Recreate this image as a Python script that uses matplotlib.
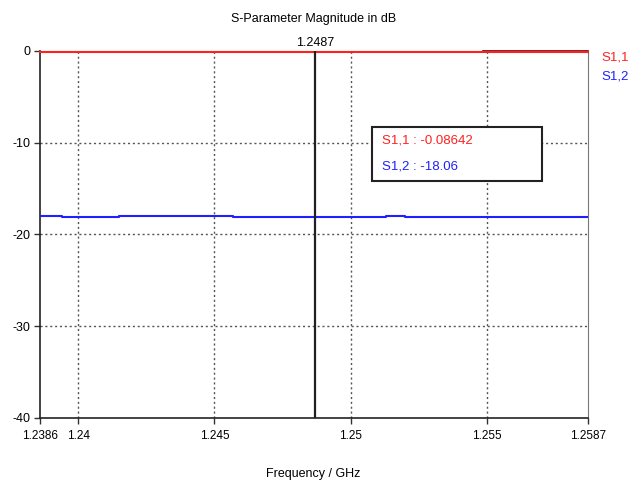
import matplotlib.pyplot as plt

# S-parameter traces (step data, GHz / dB)
freq = [1.2386, 1.23941, 1.24150, 1.24568, 1.25129, 1.25199, 1.2587]
s11 = [-0.086, -0.086, -0.086, -0.086, -0.086, -0.086, -0.086]
s12 = [-17.95, -18.06, -17.98, -18.06, -17.98, -18.06, -18.06]

marker_f = 1.2487
marker_s11 = -0.08642
marker_s12 = -18.06

xticks = [1.2386, 1.24, 1.245, 1.25, 1.255, 1.2587]
xticklabels = ['1.2386', '1.24', '1.245', '1.25', '1.255', '1.2587']
yticks = [0, -10, -20, -30, -40]

plt.rcParams['font.family'] = ['Liberation Sans', 'DejaVu Sans']
plt.rcParams['font.size'] = 8.5

fig = plt.figure(figsize=(6.36, 4.8), dpi=100)
ax = fig.add_axes([0.0629, 0.1292, 0.8616, 0.7646])

ax.plot(freq, s11, color='#ff2020', lw=1.5, drawstyle='steps-post', zorder=4, clip_on=False)
ax.plot(freq, s12, color='#2020ff', lw=1.5, drawstyle='steps-post', zorder=4)
# darker segment of the top trace near the end of the band
ax.plot([1.25485, 1.2587], [0.0, 0.0], color='#600000', lw=1.2, zorder=3, clip_on=False)

ax.axvline(marker_f, color='#202020', lw=1.6, zorder=5)
ax.text(marker_f, 0.25, '1.2487', ha='center', va='bottom', fontsize=9)

ax.set_xlim(1.2386, 1.2587)
ax.set_ylim(-40, 0)
ax.set_xticks(xticks)
ax.set_xticklabels(xticklabels)
ax.set_yticks(yticks)
ax.set_yticklabels(['0', '-10', '-20', '-30', '-40'], fontsize=9)

for f in xticks[1:-1]:
    ax.axvline(f, color='#555555', lw=1.0, ls=(0, (1.5, 2)), zorder=1)
for y in yticks[1:-1]:
    ax.axhline(y, color='#555555', lw=1.0, ls=(0, (1.5, 2)), zorder=1)

ax.tick_params(axis='both', direction='out', length=4, width=1, color='#333333', pad=3)
ax.tick_params(axis='x', pad=5)
ax.spines['top'].set_visible(False)
ax.spines['right'].set_color('#777777')
for s in ['left', 'bottom']:
    ax.spines[s].set_color('#222222')
    ax.spines[s].set_linewidth(1.2)

ax.set_title('S-Parameter Magnitude in dB', fontsize=9, pad=21)
fig.text(0.492, 0.0, 'Frequency / GHz', ha='center', va='bottom', fontsize=9)

# marker readout box
ax.text(0.624, 0.755, f'S1,1 : {marker_s11}', color='#ff2020', transform=ax.transAxes,
        fontsize=9.5, va='center', zorder=6)
ax.text(0.624, 0.685, f'S1,2 : {marker_s12}', color='#2020ff', transform=ax.transAxes,
        fontsize=9.5, va='center', zorder=6)
box = plt.Rectangle((0.606, 0.645), 0.31, 0.148, transform=ax.transAxes, fill=True,
                    facecolor='white', edgecolor='#222222', lw=1.5, zorder=2)
ax.add_patch(box)

# trace legend on the right
fig.text(0.946, 0.873, 'S1,1', color='#ff2020', fontsize=9.5)
fig.text(0.946, 0.835, 'S1,2', color='#2020ff', fontsize=9.5)

fig.savefig('out.png', dpi=100)
